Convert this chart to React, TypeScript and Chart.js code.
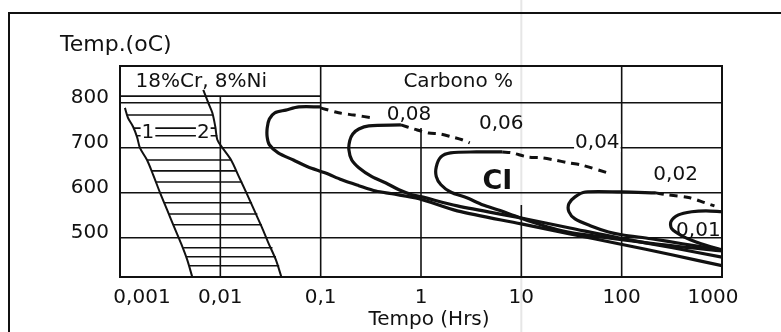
import React, { useEffect, useRef } from "react";
import { Chart, registerables } from "chart.js";

Chart.register(...registerables);

// ---------- data (time in hours, temperature in °C) ----------
const xTicks = [0.001, 0.01, 0.1, 1, 10, 100, 1000];
const xTickLabels = ["0,001", "0,01", "0,1", "1", "10", "100", "1000"];
const yTicks = [500, 600, 700, 800];
// upper end (°C) of each vertical rule, null = plot border
const xRuleTops: (number | null)[] = [null, 815, 882, 744, 573, 882, null];
const headerBoxTemp = 815;

// C-curves (Carbono %)
const c008Solid: [number, number][] = [
  [0.1, 791], [0.0607, 791], [0.0449, 784], [0.0349, 778], [0.0308, 764], [0.0293, 744],
  [0.0293, 724], [0.0308, 707], [0.0377, 689], [0.0535, 673], [0.0741, 658], [0.112, 644],
  [0.162, 629], [0.24, 616], [0.355, 604], [0.513, 598], [0.955, 587], [2.3, 560], [10, 531],
  [30.5, 509], [93, 487], [323, 462], [1000, 438],
];
const c008Dash: [number, number][] = [[0.1, 789], [0.151, 778], [0.214, 773], [0.324, 767]];

const c006Solid: [number, number][] = [
  [0.631, 751], [0.302, 749], [0.24, 742], [0.209, 731], [0.195, 716], [0.191, 696],
  [0.204, 673], [0.24, 656], [0.324, 636], [0.447, 622], [0.603, 607], [0.813, 596],
  [1.02, 591], [2.3, 571], [10, 544], [30.5, 522], [93, 500], [323, 478], [1000, 457],
];
const c006Dash: [number, number][] = [
  [0.631, 751], [0.851, 742], [1.19, 733], [1.55, 731], [2.06, 724], [2.57, 718], [3.06, 711],
];

const c004Solid: [number, number][] = [
  [6.45, 691], [3.57, 691], [1.97, 689], [1.58, 680], [1.42, 658], [1.42, 636], [1.58, 618],
  [1.97, 602], [2.86, 589], [4.16, 573], [5.91, 562], [8.58, 549], [12.6, 536], [20.1, 522],
  [32, 511], [54.6, 504], [100, 496], [323, 482], [1000, 471],
];
const c004Dash: [number, number][] = [
  [6.45, 691], [8.03, 689], [11.5, 680], [15.9, 678], [21.5, 673], [29.2, 667], [39.5, 662], [74, 644],
];

const c002Solid: [number, number][] = [
  [219, 600], [100, 602], [43.3, 602], [34.3, 591], [29.8, 576], [29.8, 558], [34.3, 542],
  [48.6, 527], [74, 513], [100, 507], [196, 498], [402, 487], [1000, 473],
];
const c002Dash: [number, number][] = [[219, 600], [277, 596], [478, 589], [676, 578], [841, 571]];

const c001Solid: [number, number][] = [
  [1000, 558], [692, 560], [499, 558], [368, 551], [310, 536], [316, 520], [402, 504],
  [619, 487], [1000, 473],
];

// 18%Cr 8%Ni band (curves 1 and 2) with hatching
const band1: [number, number][] = [
  [0.00112, 789], [0.0012, 767], [0.00135, 747], [0.00148, 724], [0.00158, 700], [0.00186, 673],
  [0.00214, 640], [0.00251, 600], [0.00295, 562], [0.00347, 524], [0.00407, 487], [0.00468, 451],
  [0.00525, 413],
];
const band2: [number, number][] = [
  [0.00676, 829], [0.00759, 800], [0.00832, 778], [0.00891, 747], [0.00933, 718], [0.0105, 700],
  [0.0128, 673], [0.0153, 636], [0.0182, 600], [0.0217, 562], [0.0259, 524], [0.0301, 489],
  [0.0358, 451], [0.0406, 413],
];
const hatchTemps = [773, 744, 727, 673, 649, 624, 578, 553, 529, 478, 458, 438];
const hatchStart = [0.00117, 0.00135, 0.00148, 0.00186, 0.00204, 0.00229, 0.00275, 0.00309, 0.00339, 0.00427, 0.00457, 0.0049];
const hatchEnd = [0.00832, 0.00891, 0.00933, 0.0128, 0.0145, 0.0165, 0.0207, 0.0234, 0.0259, 0.0331, 0.0358, 0.0386];

// in-plot texts
const curveLabels = ["0,08", "0,06", "0,04", "0,02", "0,01"];
const curveLabelTimes = [0.76, 6.31, 57.2, 345, 581];
const curveLabelTemps = [773, 753, 711, 640, 516];
const curveLabelMask = [false, false, true, false, false];

const FONT = '"DejaVu Sans", "Liberation Sans", sans-serif';
const INK = "#111111";

const pts = (a: [number, number][]) => a.map(([x, y]) => ({ x, y }));

function buildDatasets() {
  const ds: any[] = [];
  const solid = (a: [number, number][], w = 3.2) => ({
    data: pts(a), borderColor: INK, borderWidth: w, pointRadius: 0, tension: 0.3, fill: false,
  });
  const dashed = (a: [number, number][]) => ({
    data: pts(a), borderColor: INK, borderWidth: 3, borderDash: [8, 6], pointRadius: 0, tension: 0.3, fill: false,
  });
  ds.push(solid(c008Solid), dashed(c008Dash));
  ds.push(solid(c006Solid), dashed(c006Dash));
  ds.push(solid(c004Solid), dashed(c004Dash));
  ds.push(solid(c002Solid), dashed(c002Dash));
  ds.push(solid(c001Solid));
  ds.push(solid(band1, 2), solid(band2, 2));
  hatchTemps.forEach((T, i) => {
    ds.push({
      data: [{ x: hatchStart[i], y: T }, { x: hatchEnd[i], y: T }],
      borderColor: INK, borderWidth: 1.6, pointRadius: 0, tension: 0, fill: false,
    });
  });
  return ds;
}

const decorPlugin = {
  id: "decor",
  beforeDraw(chart: any) {
    const { ctx, width, height } = chart;
    const x = chart.scales.x;
    ctx.save();
    ctx.fillStyle = "#ffffff";
    ctx.fillRect(0, 0, width, height);
    // scan fold
    const xf = x.getPixelForValue(10);
    ctx.strokeStyle = "#e6e6e6";
    ctx.lineWidth = 2;
    ctx.beginPath(); ctx.moveTo(xf, 0); ctx.lineTo(xf, height); ctx.stroke();
    // outer frame
    ctx.strokeStyle = INK;
    ctx.lineWidth = 2;
    ctx.beginPath(); ctx.moveTo(8, 13); ctx.lineTo(width, 13); ctx.stroke();
    ctx.beginPath(); ctx.moveTo(9, 13); ctx.lineTo(9, height); ctx.stroke();
    ctx.restore();
  },
  beforeDatasetsDraw(chart: any) {
    const { ctx, chartArea: a } = chart;
    const x = chart.scales.x, y = chart.scales.y;
    ctx.save();
    ctx.strokeStyle = INK;
    ctx.lineWidth = 1.6;
    xTicks.forEach((v, i) => {
      const top = xRuleTops[i];
      if (top == null) return;
      const px = x.getPixelForValue(v);
      ctx.beginPath(); ctx.moveTo(px, y.getPixelForValue(top)); ctx.lineTo(px, a.bottom); ctx.stroke();
    });
    const yb = y.getPixelForValue(headerBoxTemp);
    ctx.beginPath(); ctx.moveTo(a.left, yb); ctx.lineTo(x.getPixelForValue(0.1), yb); ctx.stroke();
    ctx.lineWidth = 2;
    ctx.strokeRect(a.left, a.top, a.right - a.left, a.bottom - a.top);
    ctx.restore();
  },
  afterDatasetsDraw(chart: any) {
    const { ctx, chartArea: a } = chart;
    const x = chart.scales.x, y = chart.scales.y;
    ctx.save();
    ctx.fillStyle = INK;
    ctx.textAlign = "center";
    ctx.textBaseline = "middle";
    const put = (text: string, t: number, T: number, font: string, mask = false) => {
      const px = x.getPixelForValue(t), py = y.getPixelForValue(T);
      ctx.font = font;
      if (mask) {
        const w = ctx.measureText(text).width;
        ctx.fillStyle = "#ffffff";
        ctx.fillRect(px - w / 2 - 1, py - 9, w + 2, 18);
        ctx.fillStyle = INK;
      }
      ctx.fillText(text, px, py);
    };
    curveLabels.forEach((s, i) => put(s, curveLabelTimes[i], curveLabelTemps[i], `20px ${FONT}`, curveLabelMask[i]));
    put("CI", 5.78, 624, `bold 27px ${FONT}`);
    put("1", 0.0019, 733, `20px ${FONT}`, true);
    put("2", 0.00676, 733, `20px ${FONT}`, true);
    put("18%Cr, 8%Ni", 0.00646, 847, `20px ${FONT}`);
    put("Carbono %", 2.35, 847, `20px ${FONT}`);
    // x tick labels
    ctx.font = `20px ${FONT}`;
    const shift = [22, 0, 0, 0, 0, 0, -9];
    xTicks.forEach((v, i) => {
      ctx.fillText(xTickLabels[i], x.getPixelForValue(v) + shift[i], a.bottom + 21);
    });
    // axis titles
    ctx.fillText("Tempo (Hrs)", 429, 320);
    ctx.textAlign = "left";
    ctx.font = `22px ${FONT}`;
    ctx.fillText("Temp.(oC)", 60, 45);
    ctx.restore();
  },
};

export default function App() {
  const ref = useRef<HTMLCanvasElement>(null);
  useEffect(() => {
    document.body.style.margin = "0";
    const canvas = ref.current!;
    const chart = new Chart(canvas, {
      type: "line",
      data: { datasets: buildDatasets() },
      options: {
        responsive: false,
        animation: false,
        events: [],
        layout: { padding: { left: 8, right: 59, top: 66, bottom: 0 } },
        plugins: { legend: { display: false }, tooltip: { enabled: false } },
        scales: {
          x: {
            type: "logarithmic",
            min: 0.001,
            max: 1000,
            afterBuildTicks: (s: any) => { s.ticks = xTicks.map((v) => ({ value: v })); },
            afterFit: (s: any) => { s.height = 55; },
            ticks: { display: false },
            grid: { display: false, drawTicks: false },
            border: { display: false },
          },
          y: {
            type: "linear",
            min: 413,
            max: 882,
            afterBuildTicks: (s: any) => { s.ticks = yTicks.map((v) => ({ value: v })); },
            afterFit: (s: any) => { s.width = 112; },
            ticks: {
              color: INK,
              font: { family: FONT, size: 20 },
              padding: 11,
              labelOffset: -5,
            },
            grid: { color: INK, lineWidth: 1.6, drawTicks: false },
            border: { display: false },
          },
        },
      },
      plugins: [decorPlugin],
    } as any);
    return () => chart.destroy();
  }, []);
  return (
    <div style={{ width: 781, height: 332 }}>
      <canvas ref={ref} width={781} height={332} style={{ display: "block" }} />
    </div>
  );
}
